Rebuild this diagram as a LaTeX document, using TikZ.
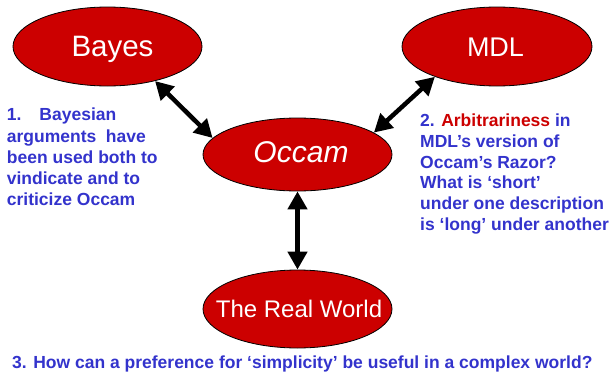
\documentclass[tikz,border=0pt]{standalone}
\usepackage{fontspec}
\setmainfont{Liberation Sans}
\usetikzlibrary{shapes.geometric,arrows.meta}
\definecolor{blobred}{HTML}{CC0000}
\definecolor{noteblue}{HTML}{3333CC}
\begin{document}
\begin{tikzpicture}[x=1pt,y=-1pt,
  blob/.style={ellipse, draw=black, line width=0.8pt, fill=blobred, inner sep=0pt, minimum width=189pt, minimum height=78pt},
  blobtext/.style={text=white, inner sep=0pt, anchor=base},
  note/.style={text=noteblue, font=\fontsize{17.5}{21}\selectfont\bfseries, inner sep=0pt, anchor=base west},
  biarrow/.style={line width=4.5pt, {Triangle[length=18pt,width=19pt]}-{Triangle[length=18pt,width=19pt]}}]
\useasboundingbox (0,0) rectangle (610,372);
% ellipses
\node[blob, minimum height=79pt] (bayes) at (107.5,46.5) {};
\node[blob, minimum width=190pt, minimum height=79pt] (mdl) at (497,46.5) {};
\node[blob, minimum height=73pt] (occam) at (297.5,154.5) {};
\node[blob] (real) at (297.5,309) {};
% ellipse labels
\node[blobtext, font=\fontsize{29.5}{29.5}\selectfont] (bayest) at (112.5,56) {Bayes};
\node[blobtext, font=\fontsize{27}{27}\selectfont] (mdlt) at (495.5,56) {MDL};
\node[blobtext, font=\fontsize{30}{30}\selectfont\itshape] (occamt) at (301,162.7) {Occam};
\node[blobtext, font=\fontsize{24}{24}\selectfont] (realt) at (299,317.3) {The Real World};
% arrows
\draw[biarrow] (bayes.-36) -- (occam.169);
\draw[biarrow] (mdl.-154.5) -- (occam.16);
\draw[biarrow] (occam) -- (real);
% left note
\node[note] (l1) at (6.7,120.7) {1.\hspace{18pt}Bayesian};
\node[note] (l2) at (6.7,142.3) {arguments\hspace{4.7pt} have};
\node[note] (l3) at (6.7,163.3) {been used both to};
\node[note] (l4) at (6.7,184) {vindicate and to};
\node[note] (l5) at (6.7,205) {criticize Occam};
% right note
\node[note] (r1) at (420,126.7) {2. \textcolor{blobred}{Arbitrariness} in};
\node[note] (r2) at (420,147.7) {MDL’s version of};
\node[note] (r3) at (420,168.3) {Occam’s Razor?};
\node[note] (r4) at (420,188.3) {What is ‘short’};
\node[note] (r5) at (420,209) {under one description};
\node[note] (r6) at (420,230) {is ‘long’ under another};
% bottom note
\node[note] (b1) at (12,368) {3. How can a preference for ‘simplicity’ be useful in a complex world?};
\end{tikzpicture}
\end{document}
